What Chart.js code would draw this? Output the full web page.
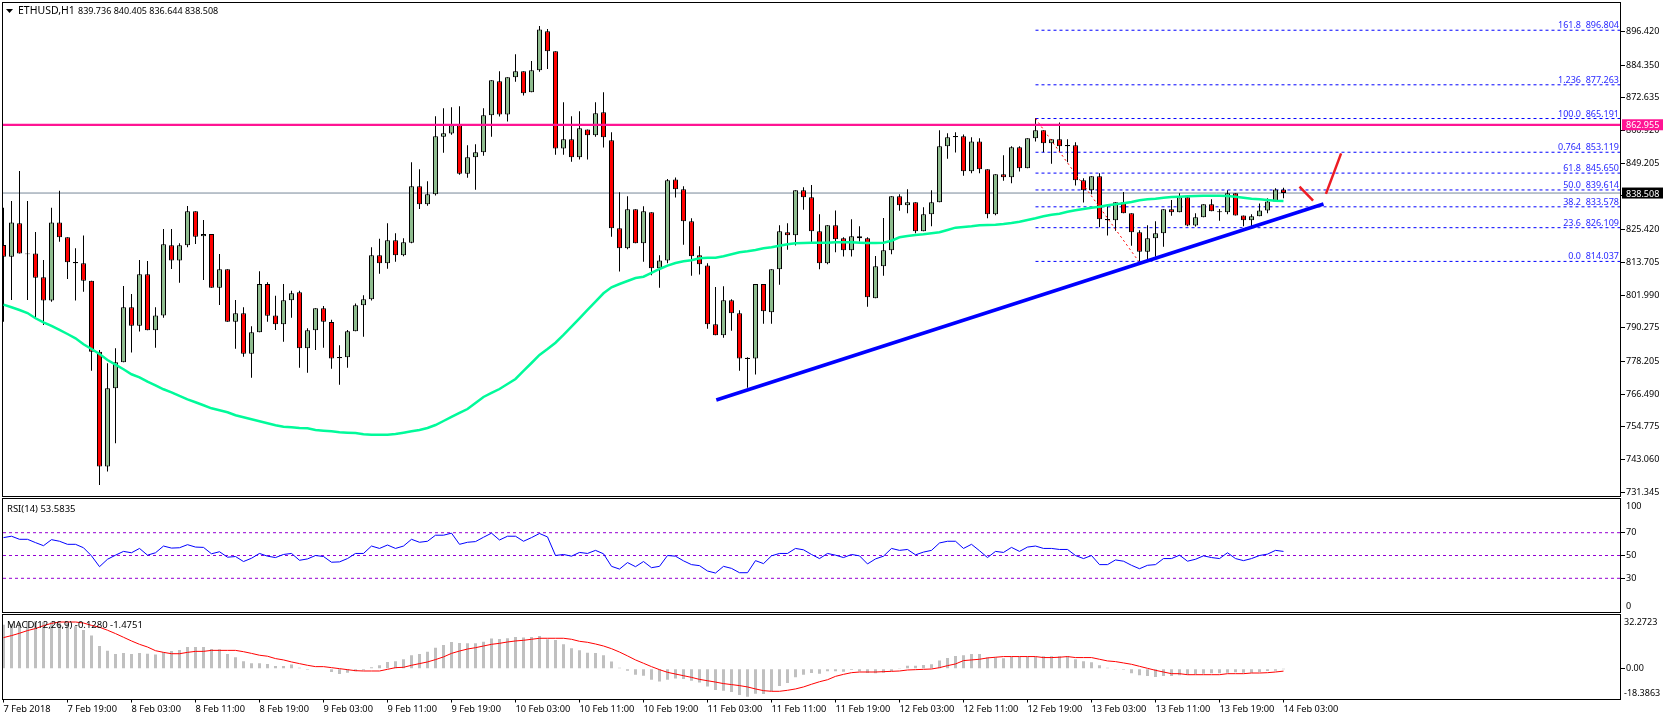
<!DOCTYPE html>
<html lang="en">
<head>
<meta charset="UTF-8">
<title>ETHUSD,H1</title>
<script src="https://cdn.jsdelivr.net/npm/chart.js"></script>
<style>
    body { margin: 0; background: #fff; overflow: hidden; }
    canvas { position: absolute; left: 0; }
</style>
</head>
<body>
<canvas id="priceChart" width="1663" height="498" style="top:0"></canvas>
<canvas id="rsiChart" width="1663" height="115" style="top:498px"></canvas>
<canvas id="macdChart" width="1663" height="107" style="top:613px"></canvas>
<script>
// hourly bars, 7 Feb 11:00 to 14 Feb 03:00
const opens = [819.9,815.7,827.7,816.9,816.9,808.4,800.0,828.0,822.7,813.8,813.4,807.1,781.7,740.6,768.6,777.9,797.6,791.0,809.4,789.4,
794.7,819.8,814.4,819.8,832.0,823.0,823.8,804.6,811.2,792.4,795.5,781.0,788.7,805.9,794.7,791.5,800.1,803.0,782.9,789.4,
797.3,792.3,779.8,779.7,789.0,798.3,800.5,816.2,813.4,821.6,816.2,820.7,840.9,834.5,838.1,858.7,859.8,862.8,845.4,851.3,
853.1,866.4,878.5,866.6,880.0,882.1,874.6,882.5,896.4,889.3,854.5,857.8,851.3,861.3,859.2,867.4,857.4,825.9,818.7,832.7,
820.5,831.6,811.6,814.4,843.4,839.9,828.4,816.2,812.6,791.5,787.6,800.1,795.5,779.5,779.3,805.9,795.8,811.2,824.5,823.4,
839.5,837.0,824.8,813.4,827.0,822.3,818.0,823.0,822.3,800.8,812.3,818.0,837.4,834.1,835.2,824.8,830.9,835.2,855.3,858.9,
858.8,846.3,857.0,847.0,830.9,845.2,844.2,854.9,847.4,858.1,861.0,856.3,857.8,855.7,855.6,843.1,839.5,844.5,829.2,828.8,
835.2,831.3,824.5,817.5,822.3,824.1,832.7,831.6,837.0,826.9,829.8,834.5,832.0,831.6,838.4,830.5,828.8,830.2,832.3,835.5,839.736];
const highs = [833.2,835.7,846.4,835.7,824.6,814.5,833.2,839.3,822.7,818.7,823.3,807.1,782.3,777.6,782.9,805.2,802.4,814.5,814.2,797.6,
825.6,825.6,820.5,833.9,832.0,828.9,823.8,816.7,811.2,800.2,797.6,790.8,810.5,806.6,801.7,805.9,803.5,803.5,790.1,797.3,
798.1,793.1,784.0,789.5,799.0,801.9,819.1,822.1,827.7,824.1,822.3,849.5,847.0,842.7,866.0,868.9,869.2,869.6,855.6,856.0,
868.9,878.9,882.1,880.0,888.2,882.1,885.8,898.3,897.2,889.3,871.0,866.0,867.8,861.3,871.0,874.6,860.3,838.8,837.4,832.7,
833.8,831.6,816.2,843.5,844.1,840.9,829.5,819.5,813.4,804.9,805.1,800.5,796.5,779.7,805.9,805.9,811.2,827.0,827.7,839.5,
840.6,841.4,830.9,827.0,832.3,822.7,829.1,826.6,822.7,816.0,829.6,837.4,838.1,839.9,835.2,833.4,839.5,861.0,859.9,860.3,
859.5,858.5,858.1,847.0,845.2,852.0,855.3,855.3,858.1,865.3,861.0,857.8,863.8,857.8,856.7,843.8,844.5,845.6,833.8,835.2,
838.9,831.3,825.2,827.0,828.4,832.7,836.0,838.4,837.0,831.3,834.5,836.3,832.8,839.5,838.4,830.5,830.9,834.8,836.6,840.2,840.405];
const lows = [792.4,800.2,816.9,800.2,793.7,791.3,799.6,821.1,807.7,800.0,803.2,774.9,734.0,738.8,748.9,777.9,781.4,788.9,789.4,783.1,
793.9,811.3,806.4,819.1,820.3,807.4,804.6,798.4,792.4,782.8,779.9,772.4,788.7,792.4,789.5,785.3,793.9,776.0,774.2,782.3,
783.1,775.6,769.9,776.0,789.0,787.1,800.0,809.6,811.4,813.9,815.9,820.5,832.8,834.0,837.6,852.9,859.4,845.1,844.0,839.7,
851.9,858.7,865.9,864.1,878.4,873.4,874.6,881.9,882.9,852.2,852.2,849.7,850.5,850.5,858.7,854.8,822.9,810.4,818.4,820.5,
813.9,809.1,804.6,813.4,836.9,820.0,808.9,809.3,789.9,787.6,786.7,789.2,774.9,768.8,773.5,791.7,791.7,805.7,818.2,819.7,
832.5,821.0,811.2,813.0,817.3,815.8,815.8,821.2,797.8,800.8,808.9,816.6,832.2,831.3,824.1,824.8,826.6,835.2,850.8,853.0,
844.7,845.6,845.6,829.5,830.6,842.9,842.0,846.2,847.4,857.0,853.1,849.0,853.1,849.5,841.2,835.1,838.1,826.3,823.3,825.0,
831.3,819.6,814.1,814.5,815.7,819.3,830.4,831.6,826.6,826.5,829.8,832.0,828.6,830.9,830.5,826.6,826.6,830.2,831.3,835.5,836.644];
const closes = [815.7,828.0,816.9,816.6,808.2,800.0,828.0,822.7,813.7,813.4,807.1,781.7,740.6,768.6,777.9,797.6,791.0,809.4,789.4,794.7,
820.2,814.4,819.8,832.0,822.9,823.8,804.6,811.2,792.4,795.5,781.0,788.7,805.9,794.6,791.5,800.1,802.6,782.9,789.4,797.3,
792.4,779.3,779.4,789.0,798.3,800.5,816.2,813.4,821.6,816.2,820.9,840.9,834.5,838.1,858.8,859.9,862.8,845.4,851.3,853.1,
866.4,878.9,866.6,880.0,882.1,874.2,882.5,897.1,889.3,854.5,857.8,851.3,861.7,859.2,867.1,858.5,825.9,818.7,832.7,820.5,
832.0,811.6,814.4,843.1,839.9,828.4,815.9,813.0,791.5,787.6,800.1,795.5,779.3,779.1,805.9,796.2,811.2,824.8,823.4,839.5,
837.0,824.8,813.4,827.0,822.0,818.0,823.0,822.3,801.2,812.3,818.0,837.4,834.1,835.2,824.8,830.9,835.2,855.3,858.5,858.5,
846.3,857.0,847.0,830.9,845.2,844.2,854.9,847.4,858.1,861.0,856.3,857.8,855.3,855.3,843.1,839.5,844.5,829.1,828.8,835.2,
831.3,824.5,817.5,822.3,824.1,832.7,831.6,837.0,826.9,829.8,834.5,832.0,831.6,838.4,830.5,828.8,830.2,832.3,835.5,839.8,838.508];
const movingAvg = [798.54,797.60,796.64,795.56,793.67,792.23,790.91,789.48,788.04,786.51,784.36,782.67,780.88,778.74,777.05,775.41,773.62,772.54,770.97,769.68,
768.25,767.17,765.85,764.66,763.59,762.52,761.44,760.73,760.01,758.94,758.22,757.50,756.79,756.07,755.36,754.85,754.64,754.39,754.28,753.67,
753.42,753.21,752.85,752.71,752.60,752.13,751.99,751.99,751.99,752.24,752.71,753.21,753.67,754.39,755.46,756.89,758.33,759.76,761.19,763.34,
765.49,766.92,768.35,770.14,771.93,774.80,777.66,780.53,782.67,784.93,787.69,790.66,793.67,796.64,799.61,802.62,804.76,805.95,807.02,808.09,
808.56,809.89,811.32,812.50,813.47,814.07,814.43,815.15,815.36,815.36,815.86,816.58,817.30,817.65,818.12,818.73,819.09,819.66,820.16,820.52,
820.63,820.73,820.73,820.73,820.88,820.88,820.88,820.73,820.63,820.63,820.73,821.45,822.67,823.13,823.49,823.74,824.10,824.46,825.28,826.11,
826.35,826.61,826.96,827.07,827.18,827.43,827.79,828.25,828.86,829.47,830.19,830.76,831.12,831.83,832.33,832.80,833.27,833.62,834.12,834.48,
834.84,835.31,835.91,836.27,836.49,836.85,837.10,837.20,837.35,837.45,837.56,837.56,837.56,837.45,837.20,836.85,836.49,836.27,836.02,835.77,835.66];
const rsiVals = [65.7,66.9,64.2,64.2,61.3,58.6,63.9,62.5,59.8,59.8,56.8,49.7,40.2,46.7,50.3,53.6,52.4,56.2,50.3,52.4,
58.3,56.5,56.8,59.5,57.4,57.1,51.5,53.3,48.5,49.1,44.7,47.6,51.8,49.4,48.2,50.9,51.8,45.8,47.0,50.0,
49.1,44.1,44.4,47.3,51.8,51.8,58.3,56.2,59.2,56.2,58.3,64.2,61.6,62.5,67.8,67.8,69.6,59.8,61.6,62.2,
66.0,69.6,63.6,66.9,66.9,62.5,65.7,69.3,66.3,50.0,50.9,49.4,52.7,51.8,54.5,51.5,40.5,38.1,43.8,40.2,
44.7,39.3,40.5,50.0,49.4,45.3,42.0,41.1,36.4,34.6,40.5,38.7,34.9,34.9,45.5,42.9,49.7,51.8,51.8,56.2,
55.0,50.9,47.3,51.8,50.3,48.2,50.9,49.7,42.6,47.0,49.4,56.2,54.5,55.3,50.6,53.0,54.5,61.0,62.5,62.5,
56.2,59.8,54.2,48.2,53.6,52.7,57.1,53.6,57.4,58.3,56.2,56.2,55.3,55.3,50.0,47.3,50.0,42.0,42.0,46.1,
45.0,41.4,38.4,41.4,42.0,47.3,47.3,50.3,45.0,46.7,49.7,48.2,47.3,52.4,47.3,45.5,47.3,50.0,51.2,54.5,53.58];
const macdBars = [26.2,26.6,27.2,28.2,28.2,27.8,27.8,27.2,27.2,25.2,23.1,19.7,13.5,10.7,8.7,9.3,8.7,9.3,8.9,8.5,
9.7,10.5,11.1,12.9,12.9,12.9,11.7,11.5,8.7,6.8,4.4,3.2,3.2,2.8,1.6,1.6,2.4,0.6,-0.6,0.2,
-0.4,-2.0,-3.2,-2.4,-1.6,-1.0,0.8,2.0,4.0,4.4,5.6,8.0,8.7,10.1,12.5,14.1,15.9,15.3,15.1,15.1,
16.1,17.9,17.7,18.1,18.9,18.5,18.9,19.5,17.5,17.1,14.5,12.1,10.9,9.5,9.3,8.0,4.2,0.6,-1.2,-3.6,
-4.2,-6.6,-7.6,-6.6,-5.8,-6.2,-7.2,-8.2,-10.7,-12.7,-13.1,-13.9,-15.7,-16.7,-14.9,-15.1,-13.3,-10.3,-8.5,-5.2,
-3.6,-2.6,-3.0,-1.6,-1.6,-1.8,-0.8,-1.6,-2.6,-2.8,-2.4,-1.4,0.4,1.8,1.8,2.2,2.6,4.8,6.4,7.6,
8.0,8.7,8.7,6.6,6.6,6.2,7.0,7.0,7.0,7.0,7.4,7.4,7.4,7.4,5.6,4.4,3.8,2.0,0.6,-0.2,
-0.6,-2.8,-4.0,-4.4,-5.0,-4.4,-4.4,-4.0,-3.6,-3.2,-3.0,-2.8,-2.8,-2.4,-2.2,-2.4,-2.4,-2.0,-1.4,-1.2,-0.128];
const macdSignal = [18.5,19.7,21.1,22.7,23.9,25.6,27.0,27.8,27.8,27.8,27.2,25.8,24.7,22.9,20.9,18.7,16.5,14.5,12.9,10.7,
9.7,8.9,8.9,9.7,10.3,10.3,10.9,10.9,10.9,10.9,10.1,9.1,8.0,7.4,6.0,5.2,4.0,3.0,2.0,1.2,
1.2,0.6,0.0,-0.6,-1.2,-1.4,-1.4,-1.4,-0.4,0.6,0.8,2.0,3.0,4.0,5.4,7.0,9.1,10.5,11.7,12.5,
13.5,14.5,15.1,15.9,16.5,16.9,17.5,18.1,18.1,18.1,18.1,17.5,16.3,15.7,14.7,13.5,11.9,9.9,7.6,5.2,
3.2,1.2,-0.6,-2.2,-3.2,-4.2,-5.2,-6.4,-7.2,-8.0,-8.9,-9.5,-10.1,-10.9,-12.1,-13.1,-13.5,-13.5,-12.9,-12.1,
-10.9,-9.3,-7.8,-6.6,-4.6,-3.4,-2.4,-2.0,-2.0,-2.0,-1.8,-1.6,-1.4,-0.8,-0.6,-0.4,-0.2,0.6,1.8,2.8,
4.8,5.2,5.6,6.4,6.8,7.2,7.2,7.2,7.2,7.2,6.6,6.6,6.8,7.2,6.6,6.6,6.6,5.6,4.6,4.2,
3.4,2.6,1.4,0.2,-1.0,-2.0,-3.0,-3.0,-3.6,-3.6,-3.6,-3.6,-3.6,-3.0,-3.0,-3.0,-2.6,-2.6,-2.4,-2.0,-1.4751];

const priceTicks = [896.420,884.350,872.635,860.920,849.205,837.490,825.420,813.705,801.990,790.275,778.205,766.490,754.775,743.060,731.345];
const rsiTicks = [70,50,30];
const timeLabels = ['7 Feb 2018','7 Feb 19:00','8 Feb 03:00','8 Feb 11:00','8 Feb 19:00','9 Feb 03:00','9 Feb 11:00','9 Feb 19:00','10 Feb 03:00','10 Feb 11:00','10 Feb 19:00',
    '11 Feb 03:00','11 Feb 11:00','11 Feb 19:00','12 Feb 03:00','12 Feb 11:00','12 Feb 19:00','13 Feb 03:00','13 Feb 11:00','13 Feb 19:00','14 Feb 03:00'];
const fibNames = ['161.8','1.236','100.0','0.764','61.8','50.0','38.2','23.6','0.0'];
const fibPrices = [896.804,877.263,865.191,853.119,845.650,839.614,833.578,826.109,814.037];
const fibStartBar = 129;

const resistance = 862.955;
const lastPrice = 838.508;
// hand drawn lines, [bar, price]
const trendLine = [[89.1,764.4],[165,834.6]];
const fibDiagonal = [[129,865.191],[141.9,814.037]];
const arrowDown = [[162,840.8],[163.7,835.8]];
const arrowUp = [[165.3,838.2],[167.2,852.7]];

const numberFont = '9px "Noto Sans"';
const textFont = '9.5px "Noto Sans"';
const yFont = {family: 'Noto Sans', size: 9};
const xFont = {family: 'Noto Sans', size: 9.25};
const xMin = -0.0625, xMax = 202.1875;
const bars = opens.map((v, i) => i);

function toPoints(list) {
    return list.map(p => ({x: p[0], y: p[1]}));
}
function levelLine(value, color, width, dash, order, fromBar) {
    return {type: 'line', data: [{x: fromBar === undefined ? xMin : fromBar, y: value}, {x: xMax, y: value}],
        borderColor: color, borderWidth: width, borderDash: dash || [], pointRadius: 0, order: order};
}
function drawnLine(points, color, width, dash, order) {
    return {type: 'line', data: toPoints(points), borderColor: color, borderWidth: width, borderDash: dash || [],
        pointRadius: 0, order: order};
}
function seriesLine(values, color, width, order) {
    return {type: 'line', data: values.map((v, i) => ({x: i, y: v})), borderColor: color, borderWidth: width,
        pointRadius: 0, tension: 0, order: order};
}
function xScale(show) {
    return {
        type: 'linear', min: xMin, max: xMax, display: show, offset: false,
        grid: {drawOnChartArea: false, drawTicks: true, tickLength: 3, color: '#000', offset: false},
        border: {display: false},
        afterBuildTicks: s => { s.ticks = timeLabels.map((t, i) => ({value: i * 8})); },
        afterFit: s => { s.height = show ? 20.5 : 0; s.paddingLeft = 0; s.paddingRight = 0; },
        ticks: {autoSkip: false, maxRotation: 0, align: 'start', padding: 1, color: '#000', font: xFont,
            callback: (v, i) => timeLabels[i]}
    };
}
function yScale(min, max, tickList, digits) {
    return {
        position: 'right', min: min, max: max,
        grid: {drawOnChartArea: false, drawTicks: true, tickLength: 4, color: '#000'},
        border: {display: false},
        afterBuildTicks: s => { s.ticks = tickList.map(v => ({value: v})); },
        afterFit: s => { s.width = 42; s.paddingTop = 0; s.paddingBottom = 0; },
        ticks: {padding: 1, color: '#000', font: yFont, autoSkip: false, callback: v => v.toFixed(digits)}
    };
}

// pane frame plus the texts that are not axis ticks
function panePlugin(drawText) {
    return {
        id: 'pane',
        afterDraw(chart) {
            const c = chart.ctx, a = chart.chartArea;
            c.save();
            c.strokeStyle = '#000';
            c.lineWidth = 1;
            c.strokeRect(a.left - 0.5, a.top, a.right - a.left, a.bottom - a.top);
            c.font = textFont;
            c.textBaseline = 'alphabetic';
            drawText(c, chart.scales.y, a);
            c.restore();
        }
    };
}
function axisBox(c, a, y, text, color) {
    c.fillStyle = color;
    c.fillRect(a.right + 1, y - 5.5, 41, 11);
    c.fillStyle = '#fff';
    c.textAlign = 'left';
    c.fillText(text, a.right + 5, y + 3.5);
}

const candleColors = opens.map((v, i) => closes[i] >= v ? '#8fbc8f' : '#ff0000');

new Chart(document.getElementById('priceChart'), {
    type: 'bar',
    data: {
        datasets: [
            levelLine(lastPrice, '#778899', 1, [], 12),
            ...fibPrices.map(p => levelLine(p, '#0000ff', 1, [3, 3], 11, fibStartBar)),
            {label: 'wicks', data: bars.map(i => ({x: i, y: [lows[i], highs[i]]})), backgroundColor: '#000', borderWidth: 0,
                barThickness: 1, grouped: false, inflateAmount: 0, order: 9},
            {label: 'bodies', data: bars.map(i => ({x: i, y: [opens[i], closes[i]]})), backgroundColor: candleColors, borderColor: '#000',
                borderWidth: 1, borderSkipped: false, barThickness: 5, grouped: false, inflateAmount: 0, order: 8},
            drawnLine(fibDiagonal, '#ff0000', 1, [2, 3], 7),
            seriesLine(movingAvg, '#00fa9a', 2.5, 4),
            levelLine(resistance, '#ff1493', 2.25, [], 3),
            drawnLine(trendLine, '#0000ff', 3.5, [], 2),
            drawnLine(arrowDown, '#ed1c24', 2.5, [], 1),
            drawnLine(arrowUp, '#ed1c24', 2.5, [], 1)
        ]
    },
    options: {
        responsive: false, animation: false,
        layout: {padding: {left: 3, top: 2.5, right: 0, bottom: 1.5}},
        plugins: {legend: {display: false}, tooltip: {enabled: false}},
        scales: {x: xScale(false), y: yScale(729.86, 906.73, priceTicks, 3)}
    },
    plugins: [panePlugin((c, y, a) => {
        c.fillStyle = '#000';
        c.beginPath();
        c.moveTo(6, 9); c.lineTo(13, 9); c.lineTo(9.5, 13); c.closePath();
        c.fill();
        c.textAlign = 'left';
        c.font = '10.5px "Noto Sans"';
        c.fillText('ETHUSD,H1', 18, 14);
        c.font = numberFont;
        c.fillText('839.736 840.405 836.644 838.508', 78, 14);
        c.fillStyle = '#2a2aff';
        c.textAlign = 'right';
        fibPrices.forEach((p, i) => {
            const py = y.getPixelForValue(p);
            c.fillText(p.toFixed(3), a.right - 2, py - 2);
            c.fillText(fibNames[i], a.right - 40, py - 2);
        });
        axisBox(c, a, y.getPixelForValue(resistance), resistance.toFixed(3), '#ff1493');
        axisBox(c, a, y.getPixelForValue(lastPrice), lastPrice.toFixed(3), '#000');
    })]
});

new Chart(document.getElementById('rsiChart'), {
    type: 'line',
    data: {
        datasets: [
            ...rsiTicks.map(v => levelLine(v, '#9400d3', 1, [3, 3], 3)),
            seriesLine(rsiVals, '#0000ff', 1, 1)
        ]
    },
    options: {
        responsive: false, animation: false,
        layout: {padding: {left: 3, top: 0.5, right: 0, bottom: 0.5}},
        plugins: {legend: {display: false}, tooltip: {enabled: false}},
        scales: {x: xScale(false), y: yScale(0, 100, rsiTicks, 0)}
    },
    plugins: [panePlugin((c, y, a) => {
        c.fillStyle = '#000';
        c.textAlign = 'left';
        c.fillText('RSI(14) 53.5835', 7, a.top + 13);
        c.font = numberFont;
        c.fillText('100', a.right + 5, a.top + 10);
        c.fillText('0', a.right + 5, a.bottom - 3.5);
    })]
});

new Chart(document.getElementById('macdChart'), {
    type: 'bar',
    data: {
        datasets: [
            {label: 'macd', data: bars.map(i => ({x: i, y: macdBars[i]})), backgroundColor: '#c0c0c0', borderWidth: 0,
                barThickness: 3, grouped: false, inflateAmount: 0, order: 3},
            seriesLine(macdSignal, '#ff0000', 1, 1)
        ]
    },
    options: {
        responsive: false, animation: false,
        layout: {padding: {left: 3, top: 1.5, right: 0, bottom: 0}},
        plugins: {legend: {display: false}, tooltip: {enabled: false}},
        scales: {x: xScale(true), y: yScale(-18.3863, 32.2723, [0], 2)}
    },
    plugins: [panePlugin((c, y, a) => {
        c.fillStyle = '#000';
        c.textAlign = 'left';
        c.fillText('MACD(12,26,9) -0.1280 -1.4751', 7, a.top + 13);
        c.font = numberFont;
        c.fillText('32.2723', a.right + 3, a.top + 10);
        c.fillText('-18.3863', a.right + 3, a.bottom - 3.5);
    })]
});
</script>
</body>
</html>
